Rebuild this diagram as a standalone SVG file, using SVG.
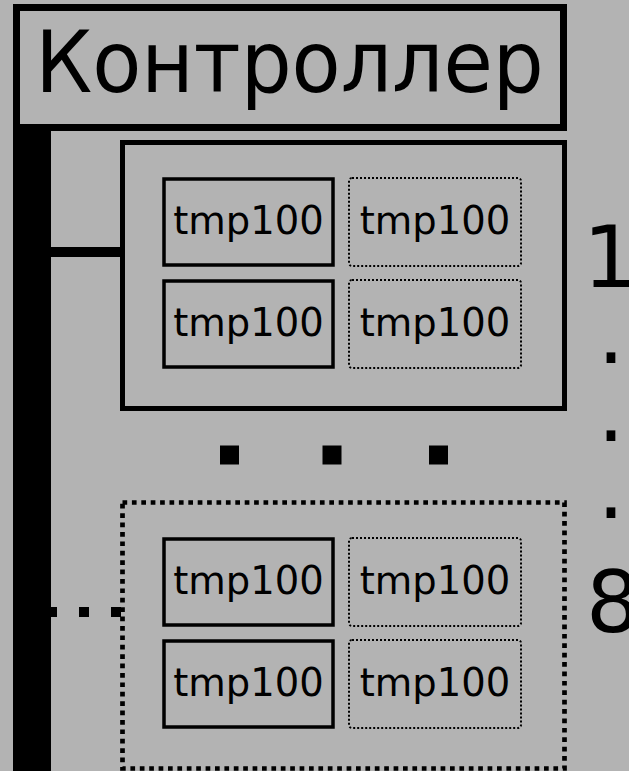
<svg xmlns="http://www.w3.org/2000/svg" width="629" height="771" viewBox="0 0 629 771">
<style>
.t{font-family:"DejaVu Sans","Liberation Sans",sans-serif;fill:#000}
.solid{fill:none;stroke:#000;stroke-width:3.5}
.dot{fill:none;stroke:#000;stroke-width:2;stroke-dasharray:2 2}
.sm{font-size:38.5px;text-anchor:middle}
.big{font-size:85px}
</style>
<rect width="629" height="771" fill="#b3b3b3"/>
<g id="controller">
<rect x="16.5" y="7.5" width="547" height="120" fill="none" stroke="#000" stroke-width="7"/>
<text class="t big" text-anchor="middle" transform="translate(289.5 92) scale(0.945 1)">Контроллер</text>
</g>
<g id="bus">
<rect x="13" y="131" width="38" height="640" fill="#000"/>
</g>
<g id="connectors">
<line x1="51" y1="252" x2="122" y2="252" stroke="#000" stroke-width="10"/>
<line x1="47" y1="612" x2="121" y2="612" stroke="#000" stroke-width="10" stroke-dasharray="10 22"/>
</g>
<g id="group1">
<rect x="122.5" y="142.5" width="442" height="266" fill="none" stroke="#000" stroke-width="5"/>
<rect class="solid" x="164" y="179" width="169" height="86"/>
<text class="t sm" x="248.5" y="234">tmp100</text>
<rect class="dot" x="349" y="178" width="172" height="88" rx="3"/>
<text class="t sm" x="435" y="234">tmp100</text>
<rect class="solid" x="164" y="281" width="169" height="86"/>
<text class="t sm" x="248.5" y="336">tmp100</text>
<rect class="dot" x="349" y="280" width="172" height="88" rx="3"/>
<text class="t sm" x="435" y="336">tmp100</text>
</g>
<g id="ellipsis">
<rect x="220" y="445.5" width="19" height="19" fill="#000"/>
<rect x="322.5" y="445.5" width="19" height="19" fill="#000"/>
<rect x="429" y="445.5" width="19" height="19" fill="#000"/>
</g>
<g id="group8">
<rect x="122.5" y="502.5" width="442" height="266" fill="none" stroke="#000" stroke-width="4.7" stroke-dasharray="4.7 4.7"/>
<rect class="solid" x="164" y="539" width="169" height="86"/>
<text class="t sm" x="248.5" y="594">tmp100</text>
<rect class="dot" x="349" y="538" width="172" height="88" rx="3"/>
<text class="t sm" x="435" y="594">tmp100</text>
<rect class="solid" x="164" y="641" width="169" height="86"/>
<text class="t sm" x="248.5" y="696">tmp100</text>
<rect class="dot" x="349" y="640" width="172" height="88" rx="3"/>
<text class="t sm" x="435" y="696">tmp100</text>
</g>
<g id="range">
<text class="t big"><tspan x="583" y="287">1</tspan><tspan x="597.5" y="363">.</tspan><tspan x="597.5" y="440.5">.</tspan><tspan x="597.5" y="518">.</tspan><tspan x="586" y="632">8</tspan></text>
</g>
</svg>
